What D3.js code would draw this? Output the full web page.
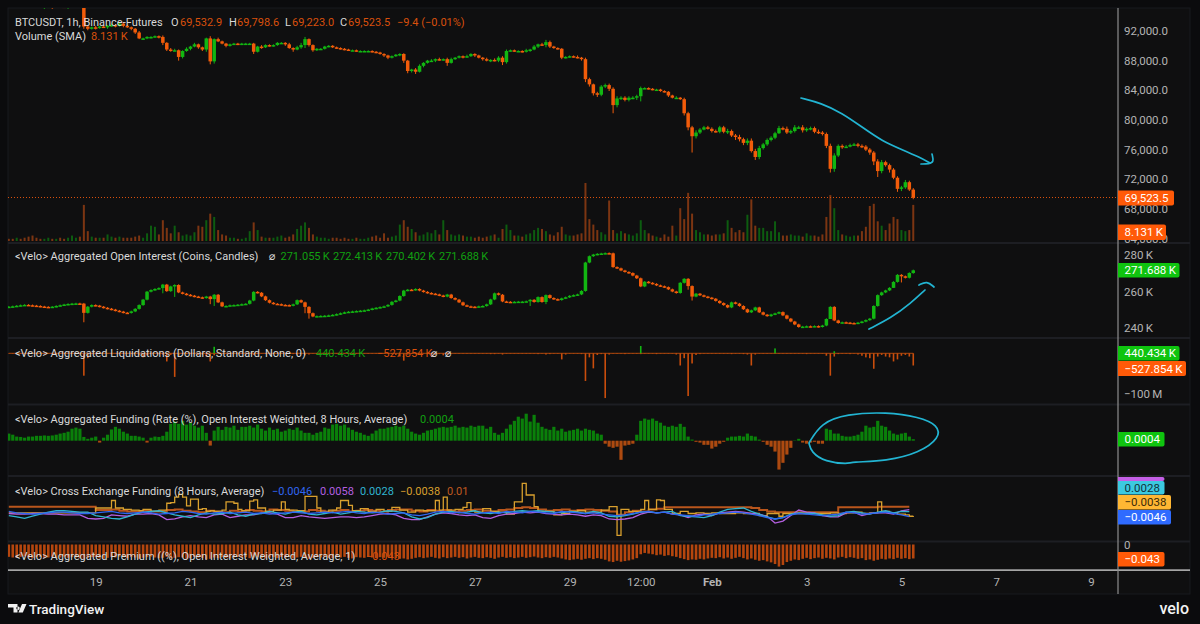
<!DOCTYPE html>
<html>
<head>
<meta charset="utf-8">
<script src="https://cdn.jsdelivr.net/npm/d3@7"></script>
<style>
  body { margin: 0; background: #0b0b0d; }
  text { font-family: Roboto, "DejaVu Sans", sans-serif; }
</style>
</head>
<body>
<svg id="chart" width="1200" height="624"></svg>
<script>
// all bars are 2h apart, starting 17 Jan 04:00
let priceClose = [
  96.5,96.3,96.4,96.2,96.0,95.8,95.6,95.4,95.2,95.3,
  95.3,95.2,95.4,95.3,95.2,96.0,96.2,96.3,96.1,92.6,
  92.3,92.5,92.4,92.6,92.5,92.7,92.8,92.7,93.0,92.7,
  92.5,92.3,91.8,91.0,91.0,91.2,91.2,91.3,91.2,90.4,
  89.5,89.4,89.4,88.5,89.3,89.6,89.9,90.2,89.8,89.5,
  91.0,87.9,90.9,90.6,90.3,90.0,90.2,90.3,90.2,90.3,
  90.3,90.3,89.2,89.9,89.8,90.1,90.0,90.1,90.4,90.4,
  90.2,89.7,89.5,89.8,90.1,90.9,90.1,89.4,89.6,89.6,
  89.9,90.0,89.8,89.7,89.6,89.5,89.4,89.4,89.3,89.3,
  89.3,89.3,89.2,89.1,88.9,88.7,88.4,88.6,88.8,88.9,
  88.0,86.6,86.8,86.5,87.3,87.7,88.0,88.0,88.2,88.1,
  88.2,87.7,88.2,88.4,88.6,88.5,88.6,88.9,88.7,88.4,
  88.2,88.0,88.1,88.0,88.4,87.8,89.3,89.4,89.3,89.3,
  89.2,89.4,89.5,89.9,90.2,90.1,90.5,89.9,89.7,89.6,
  88.4,88.5,88.6,88.5,88.4,88.2,85.5,84.8,83.6,83.4,
  84.5,84.7,84.2,82.0,82.9,83.0,82.7,83.0,83.0,83.2,
  84.3,84.3,84.2,84.1,84.1,83.9,83.8,83.3,83.0,83.0,
  82.8,80.9,79.0,77.8,78.3,78.7,79.0,78.8,78.5,78.4,
  79.0,78.4,78.5,77.9,77.7,77.4,76.9,77.2,75.8,75.0,
  76.2,76.7,77.3,77.6,78.2,78.9,78.8,78.3,78.5,79.0,
  79.0,78.6,78.8,78.9,78.4,78.3,78.1,76.5,73.4,75.2,
  76.5,76.3,76.4,76.6,76.7,76.5,76.4,76.0,75.6,74.4,
  73.1,74.3,73.9,73.3,72.2,70.7,70.9,71.6,70.6,69.5
];
// wick lengths in units of 100 dollars
let priceWickUp = [
  1,2,1,2,1,1,1,1,2,1, 1,1,2,1,1,2,1,1,1,3, 2,1,2,1,1,1,2,1,1,2, 1,1,1,2,1,1,1,1,1,2,
  1,2,2,1,1,2,1,2,1,1, 1,3,1,2,1,1,1,1,1,1, 1,1,1,1,2,1,1,1,1,1, 1,2,1,2,3,3,1,1,1,1,
  1,1,1,1,1,1,1,1,1,1, 1,1,1,1,1,1,1,1,1,1, 1,1,1,2,2,1,1,2,1,2, 1,2,2,1,1,1,2,1,1,1,
  1,2,1,2,2,2,2,1,1,1, 1,2,1,2,1,2,3,2,1,1, 1,1,1,1,2,1,2,2,1,2, 2,2,2,2,3,2,2,2,2,2,
  2,1,1,1,1,1,1,1,1,2, 1,2,2,2,3,2,2,2,2,2, 2,2,3,2,2,3,2,3,3,3, 3,2,2,2,2,3,2,3,2,3,
  2,3,2,2,2,3,2,2,3,3, 2,2,2,2,2,2,2,2,2,2, 3,3,2,2,2,2,2,3,2,2
];
let priceWickDown = [
  2,1,2,1,2,1,2,2,1,2, 1,2,1,2,1,2,1,1,2,3, 2,1,2,1,1,2,1,2,1,2, 1,2,2,1,1,1,2,1,2,3,
  2,2,1,5,2,1,2,1,2,2, 3,4,3,1,1,2,1,1,1,1, 1,1,3,1,2,1,1,1,1,1, 2,1,3,1,2,4,2,2,1,1,
  1,1,1,1,1,1,1,1,1,1, 1,1,1,1,1,2,2,1,1,2, 3,3,2,3,1,2,1,1,2,1, 1,4,1,1,1,2,1,1,2,1,
  2,1,2,1,2,4,2,1,1,1, 1,1,2,1,2,1,3,2,1,1, 2,1,1,1,1,2,4,3,3,3, 2,2,3,11,3,2,2,2,2,3,
  7,1,1,1,1,1,1,2,1,1, 1,3,4,22,3,2,1,1,2,1, 2,2,3,2,4,3,3,3,2,4, 3,2,2,2,2,1,2,2,2,2,
  2,3,2,2,2,2,2,3,5,4, 2,2,1,1,1,2,2,2,3,5, 8,3,2,4,2,4,3,2,2,2
];
let volume = [
  2,2,3,2,3,4,5,3,2,2, 3,2,2,3,2,3,5,3,4,33, 9,4,3,3,3,6,4,3,4,3, 3,3,4,5,3,7,14,13,6,19,
  12,7,14,8,5,6,5,8,14,13, 19,25,22,10,6,5,3,3,2,2, 3,9,17,10,4,3,3,3,4,5, 3,4,6,11,14,17,12,6,4,3,
  3,2,3,3,2,3,2,2,3,2, 2,3,4,5,3,7,3,4,5,15, 19,13,11,8,5,6,8,7,10,6, 19,10,6,5,6,5,4,4,3,4,
  3,4,5,6,3,11,15,10,5,5, 4,6,7,10,12,11,9,6,5,8, 13,6,5,5,6,7,53,20,15,10, 8,6,37,10,7,9,7,6,5,7,
  19,10,7,5,4,3,6,4,14,5, 30,20,44,25,10,8,6,6,5,6, 6,7,19,12,8,10,8,24,38,14, 12,12,9,9,18,8,5,5,6,5,
  5,4,7,5,5,4,6,22,42,30, 10,6,5,4,5,5,9,13,32,34, 18,14,10,16,22,20,10,9,10,33
];
let oiClose = [
  251.6,251.8,252.1,252.4,252.6,252.4,252.2,252,251.7,251.5,
  251.4,251.6,252.0,252.4,252.8,253.1,253.3,253.4,253.3,248.2,
  251.6,252.5,252.2,251.6,251,250.5,250,249.4,248.9,248.3,
  248.2,249,250.4,252.5,255.5,259.9,260.8,261.4,261.9,263.8,
  260.2,262.8,263.6,259.5,258.8,258.2,257.7,257.2,256.8,256.4,
  257.2,255.8,258.2,254,251.8,252,252.4,252.5,252.7,253,
  253.2,255,259.8,259.3,257.3,255.2,253.8,253.2,253,252.6,
  252.5,252.2,252.9,255.2,254,251.5,248,246.2,246.4,246.5,
  246.6,246.8,247.1,247.5,248,248.5,248.8,249,249.2,249.4,
  249.6,250,250.6,251,251.4,251.8,252.6,254.3,255,257.5,
  260.5,261,260.8,261.4,260.5,259.8,259.2,258.8,258.4,257.8,
  257.2,258.3,256.4,255.5,254,252.4,251.8,251.6,251.5,251.8,
  252,252.9,255.6,259,258.2,254.5,254.3,254.2,254.3,254.4,
  254.4,254.6,255.4,254.2,256.9,254.2,258,256.4,255.8,255.3,
  256.2,256.8,257.6,258,258.4,260.3,276,279.5,280.4,280.8,
  281,281.2,281.1,273.5,272.8,271.6,270.8,270.2,268.8,267.3,
  262.8,265.4,264.8,264.2,263.4,262.9,262.4,261.2,260,259.2,
  264.8,267,263,257.2,258.8,257.9,257.2,256.6,256,254.8,
  253.6,252.5,251.2,254,253.3,252,250.2,248.5,249.6,251.2,
  248.5,247.2,246.4,247.3,247.9,248.6,246.8,245,243.4,241.8,
  240.4,240.6,240.8,240.7,240.9,240.5,241.2,244.8,251.5,244,
  242.6,243,242.8,242.6,242.4,242.8,243.4,244.2,245,252,
  258,259.5,260.6,262,265.3,269.2,268.4,267.6,270.2,271.7
];
// only the bars whose wick is long enough to see
let oiWickBars = [19,39,42,51,52,75,76,132,136,172,173,208,224,226];
let oiWickLows = [243,259,257,253,252,248,245,252,253,261,255,249,262,265];
// liquidations in millions of dollars
let liqShorts = [
  1,1,1,1,1,1,1,1,1,1, 1,1,1,1,1,1,1,2,3,55, 12,2,1,1,1,1,2,1,1,1, 1,2,1,4,10,5,2,1,2,3,
  20,4,58,6,2,2,1,2,4,3, 8,20,5,1,1,1,1,1,1,1, 1,1,4,2,1,1,1,1,1,1, 1,1,2,3,2,5,3,1,1,1,
  1,1,1,1,1,1,1,1,1,1, 1,1,1,1,1,1,1,2,4,8, 18,3,2,2,1,1,1,2,4,2, 5,2,1,1,1,1,1,1,1,1,
  1,1,2,2,1,3,1,1,1,1, 1,1,1,1,2,1,3,2,1,1, 15,3,1,1,1,2,68,10,37,4, 2,110,3,1,1,1,2,1,1,1,
  2,1,1,1,2,1,1,1,1,3, 30,12,105,25,4,2,1,1,1,1, 1,1,1,2,1,1,2,3,30,3, 1,1,1,1,1,1,1,1,1,1,
  1,1,2,1,1,1,1,6,55,8, 2,1,1,2,1,3,6,10,12,38, 8,4,8,10,20,15,6,4,8,30
];
let liqLongBars = [52,160,194,209];
let liqLongs = [16,18,12,5];
// funding in units of 0.0001
let funding = [
  19,16,11,10,8,11,11,13,13,14, 13,14,16,19,21,24,32,35,32,10, 5,8,11,-5,8,16,30,37,32,24, 19,13,13,11,8,-5,8,11,10,13,
  24,45,51,45,53,43,48,40,35,40, 21,-13,27,37,29,37,35,40,29,37, 37,40,35,43,32,27,35,29,32,24, 27,32,29,35,27,21,21,16,21,24,
  35,32,43,45,40,43,35,29,24,21, 16,13,19,27,32,32,35,37,40,37, 40,32,24,19,16,21,27,29,32,35, 37,35,37,40,35,37,35,40,37,40,
  40,32,37,21,16,21,32,43,53,64, 59,72,51,69,48,37,32,29,37,27, 32,24,27,29,32,27,32,29,27,19, 16,-8,-16,-19,-16,-51,-13,-11,-8,16,
  53,59,56,59,53,48,40,37,40,37, 45,37,11,3,-3,-5,-11,-11,-21,-16, -8,-3,8,11,11,13,11,19,13,11, 3,-3,-11,-16,-29,-77,-59,-37,-19,1,
  5,-5,-8,-5,-3,-8,-8,32,29,19, 19,13,11,11,13,16,24,40,35,37, 53,40,37,27,19,16,19,21,11,4
];
// premium in units of -0.001
let premium = [
  38,40,41,38,36,40,42,39,38,41, 40,38,42,40,37,41,39,40,42,44, 41,39,38,42,44,41,38,40,37,39, 42,38,40,44,41,39,37,40,42,41,
  38,43,41,39,40,44,42,38,40,41, 46,44,40,42,39,41,43,40,38,41, 39,42,40,38,41,43,40,39,42,38, 41,39,43,40,38,42,44,41,39,40,
  38,41,42,39,40,38,41,43,39,40, 41,38,40,42,39,41,38,40,42,44, 43,46,44,41,39,42,40,38,41,43, 39,42,40,38,41,39,43,40,38,41,
  42,39,41,44,40,38,41,39,42,40, 38,41,39,37,40,42,39,41,38,40, 43,46,48,46,44,47,44,42,45,42, 44,47,52,54,50,53,51,49,46,42,
  30,26,28,30,33,31,35,33,36,38, 42,45,48,46,47,44,46,43,41,42, 39,43,40,44,41,38,42,46,43,47, 50,48,52,55,60,68,63,54,50,46,
  48,44,41,45,42,40,44,41,43,46, 40,38,42,39,41,44,42,48,46,50, 47,44,46,43,45,41,44,42,45,43
];
// cross exchange funding, units of 0.001. gold has one point per 2h, the others one per 4h
let crossGold = [
  1,1,1,1,1,1,1,1,1,1, 1,1,1,1,1,1,1,1,1,1, 1,1,8,8,8,8,19,8,8,6, 6,5,5,4,6,6,3,3,5,5,
  15,16,24,28,24,11,21,21,6,7, 3,4,3,3,5,17,17,15,6,4, 4,18,20,8,8,3,3,5,5,17, 6,5,5,4,4,25,25,25,8,2,
  2,5,5,8,19,19,12,4,4,7, 7,3,3,6,6,3,3,9,9,5, 5,2,2,5,5,4,4,4,19,5, 24,5,5,6,6,9,16,4,2,2,
  7,7,3,3,2,2,-1,-1,17,17, 44,27,27,10,2,3,3,3,-2,-2, 0,0,3,3,4,4,2,2,2,2, 5,5,10,10,-32,6,6,3,3,3,
  6,19,6,6,20,19,6,6,0,0, 3,3,0,0,1,1,0,0,1,1, 0,0,0,0,1,1,0,0,0,0, -3,-3,0,0,0,-4,0,0,0,0,
  0,0,1,1,0,0,0,0,1,1, 0,0,1,1,2,2,0,0,1,1, 17,3,3,1,1,-1,-1,-2,-4,-3.8
];
let crossOrange = [
  10,10,10,10,10,10,10,10,10,10, 10,5,5,6,4,3,3,4,3,3, 5,6,4,3,2,4,3,2,4,3, 5,4,3,6,5,4,3,3,5,4,
  3,4,5,3,4,5,4,3,5,6, 6,4,3,5,4,5,3,4,5,6, 4,3,5,6,8,9,8,6,4,5, 6,4,5,6,5,4,3,-2,2,4,
  3,6,7,9,9,9,9,9,9,9, 9,9,9,9,8,5,3,2,2,2, 2,2,2,2,2,9,9,9,9,9, 10,10,10,10,10
];
let crossPurple = [
  0,-1,-1,0,0,-1,-1,-2,-2,-2, -7,-8,-7,-2,-3,-4,-1,-1,0,-2, -9,-8,-5,-3,-5,-6,-2,-1,-6,-4, -2,-2,1,1,-1,-6,-6,-3,-5,-6,
  -7,-6,-5,-5,-6,-5,-3,-1,0,-2, -7,-9,-9,-5,-1,1,0,-2,-3,-2, -6,-7,-3,-1,0,2,1,2,0,-1, -2,-1,-2,-4,-2,-3,-8,-9,-8,-6,
  -1,2,1,2,-1,-2,-6,-2,-1,-3, 1,2,3,2,0,-1,-4,-14,-11,-3, 5,2,1,-3,-5,-5,1,2,-3,0, 1,1,-1,4,5.8
];
let crossCyan = [
  -3,-5,-7,-4,-1,2,4,4,3,2, 2,-3,-5,-7,-8,-5,-1,2,3,4, 1,-2,-4,-6,-2,1,-1,0,2,-2, -4,-1,0,3,1,-1,2,3,-1,-2,
  0,2,-1,1,3,2,1,2,4,3, 1,-5,-8,-6,-1,2,3,1,2,4, 1,0,2,1,3,4,3,4,3,2, 1,3,2,0,3,1,-4,-5,-3,-1,
  2,3,1,2,3,-3,-4,-5,-6,-3, 2,6,7,8,3,-1,-5,-8,-6,-1, 1,0,0,-2,-4,-3,2,3,1,-1, 2,4,1,3,2.8
];
let crossBlue = [
  3,1,0,-1,0,1,2,2,1,0, 0,1,2,3,1,0,1,2,1,-1, 0,1,3,2,0,-1,1,2,0,1, 2,0,1,-1,0,1,2,1,0,1,
  2,1,2,3,1,0,2,1,-1,0, 1,-2,-3,-1,2,3,1,2,0,-1, 1,2,0,3,2,1,3,2,1,0, 3,2,1,0,1,-1,-2,-3,-2,0,
  2,3,1,2,-1,-2,-3,-4,-2,-1, 0,1,2,1,-1,-3,-6,-8,-6,-2, 0,-1,-2,-3,-2,-1,2,1,-1,0, 1,2,0,-2,-4.6
];

let priceTicks = [92000,88000,84000,80000,76000,72000,68000,64000];
let oiTicks = [280,260,240];
let liqTicks = [-100];
let premiumTicks = [0];
let timeTicks = [Date.UTC(2026,0,19),Date.UTC(2026,0,21),Date.UTC(2026,0,23),Date.UTC(2026,0,25),Date.UTC(2026,0,27),Date.UTC(2026,0,29),Date.UTC(2026,0,30,12),Date.UTC(2026,1,1),Date.UTC(2026,1,3),Date.UTC(2026,1,5),Date.UTC(2026,1,7),Date.UTC(2026,1,9)];
let timeLabels = ["19","21","23","25","27","29","12:00","Feb","3","5","7","9"];

// hand drawn notes on the chart
let noteDown = [[801,98],[821,103],[842,113],[862,127],[882,141],[903,150],[919,157],[930,163]];
let noteDownHead = [[921,164],[929,164],[934,162],[932,154]];
let noteUp = [[869,329],[891,318],[911,303],[925,290]];
let noteUpHead = [[919,285],[927,281],[934,287]];
let noteRing = [[809,443],[821,423],[846,414],[887,412],[919,417],[938,425],[940,438],[919,453],[887,461],[850,462],[849,464],[825,462],[811,452],[809,443]];

let green = "#12b612", orange = "#f25c0a", greenDim = "#0d5c10", orangeDim = "#7c3512";
let axisGrey = "#b4b4b4", legendWhite = "#d9d9d9";

let svg = d3.select("#chart");
let left = 8, right = 1190, axisX = 1118;

let barTime = priceClose.map(function(d, i) { return Date.UTC(2026,0,17,4) + i * 7200000; });
let x = d3.scaleTime()
    .domain([Date.UTC(2026,0,19), Date.UTC(2026,1,9)])
    .range([95.7, 1091]);

let yPrice = d3.scaleLinear().domain([64000, 92000]).range([238.5, 31]);
let yVolume = d3.scaleLinear().domain([0, 53]).range([241, 183]);
let yOi = d3.scaleLinear().domain([240, 280]).range([327.7, 255.3]);
let yLiq = d3.scaleLinear().domain([-100, 0]).range([394, 353.3]);
let yFunding = d3.scaleLinear().domain([-100, 0]).range([478.2, 440.7]);
let yCross = d3.scaleLinear().domain([-30, 10]).range([534.05, 506.65]);
let yPremium = d3.scaleLinear().domain([70, 0]).range([567.25, 544.5]);

// panes: background, then one clip per pane
svg.append("rect").attr("x", left).attr("y", 8).attr("width", right - left).attr("height", 586)
    .attr("fill", "#0f0f10").attr("stroke", "#191a1f");

let panes = [[8,243],[243,338],[338,404.5],[404.5,476],[476,541.5],[541.5,570]];
let defs = svg.append("defs");
panes.forEach(function(p, i) {
  defs.append("clipPath").attr("id", "pane" + i).append("rect")
      .attr("x", left).attr("y", p[0]).attr("width", axisX - left).attr("height", p[1] - p[0]);
});
function paneGroup(i) { return svg.append("g").attr("clip-path", "url(#pane" + i + ")"); }

function drawBars(g, values, y, zero, width, color) {
  g.selectAll(null).data(values).enter().append("rect")
      .attr("x", function(d, i) { return x(barTime[i]) - width / 2; })
      .attr("y", function(d) { return Math.min(y(d), y(zero)); })
      .attr("width", width)
      .attr("height", function(d) { return Math.abs(y(d) - y(zero)); })
      .attr("fill", color);
}

function drawCandles(g, closes, lows, highs, y) {
  let opens = closes.map(function(d, i) { return i ? closes[i - 1] : d; });
  let col = function(d, i) { return d >= opens[i] ? green : orange; };
  g.selectAll(null).data(closes).enter().append("line")
      .attr("x1", function(d, i) { return x(barTime[i]); })
      .attr("x2", function(d, i) { return x(barTime[i]); })
      .attr("y1", function(d, i) { return y(highs(i, Math.max(d, opens[i]))); })
      .attr("y2", function(d, i) { return y(lows(i, Math.min(d, opens[i]))); })
      .attr("stroke", col).attr("stroke-width", 1);
  g.selectAll(null).data(closes).enter().append("rect")
      .attr("x", function(d, i) { return x(barTime[i]) - 1.75; })
      .attr("y", function(d, i) { return y(Math.max(d, opens[i])); })
      .attr("width", 3.5)
      .attr("height", function(d, i) { return Math.max(1.5, Math.abs(y(d) - y(opens[i]))); })
      .attr("fill", col);
}

// main pane
let gMain = paneGroup(0);
gMain.selectAll(null).data(volume).enter().append("rect")
    .attr("x", function(d, i) { return x(barTime[i]) - 1; })
    .attr("y", function(d) { return yVolume(d); })
    .attr("width", 2)
    .attr("height", function(d) { return yVolume(0) - yVolume(d); })
    .attr("fill", function(d, i) { return i && priceClose[i] >= priceClose[i - 1] ? greenDim : orangeDim; });
gMain.append("line").attr("x1", left).attr("x2", axisX)
    .attr("y1", 197.5).attr("y2", 197.5)
    .attr("stroke", "#d9500c").attr("stroke-dasharray", "1,2").attr("shape-rendering", "crispEdges");
drawCandles(gMain, priceClose.map(function(d) { return d * 1000; }),
  function(i, v) { return v - priceWickDown[i] * 100; },
  function(i, v) { return v + priceWickUp[i] * 100; }, yPrice);

// open interest
let gOi = paneGroup(1);
drawCandles(gOi, oiClose,
  function(i, v) { let k = oiWickBars.indexOf(i); return k < 0 ? v - 0.4 : oiWickLows[k]; },
  function(i, v) { return v + 0.4; }, yOi);

// liquidations
let gLiq = paneGroup(2);
gLiq.append("line")
    .attr("x1", x(barTime[0])).attr("x2", x(barTime[barTime.length - 1]))
    .attr("y1", yLiq(0)).attr("y2", yLiq(0))
    .attr("stroke", "#a8460e").attr("stroke-width", 1);
drawBars(gLiq, liqShorts.map(function(d) { return -d; }), yLiq, 0, 1.6, "#c94d0c");
gLiq.selectAll(null).data(liqLongs).enter().append("rect")
    .attr("x", function(d, i) { return x(barTime[liqLongBars[i]]) - 0.8; })
    .attr("y", function(d) { return yLiq(d); })
    .attr("width", 1.6)
    .attr("height", function(d) { return yLiq(0) - yLiq(d); })
    .attr("fill", green);

// funding
let gFunding = paneGroup(3);
gFunding.selectAll(null).data(funding).enter().append("rect")
    .attr("x", function(d, i) { return x(barTime[i]) - 1.6; })
    .attr("y", function(d) { return Math.min(yFunding(d), yFunding(0)); })
    .attr("width", 3.2)
    .attr("height", function(d) { return Math.abs(yFunding(d) - yFunding(0)); })
    .attr("fill", function(d) { return d >= 0 ? "#0a800a" : "#ad4a10"; });

// cross exchange funding
let gCross = paneGroup(4);
let crossLine = d3.line()
    .x(function(d, i) { return x(barTime[i * 2]); })
    .y(function(d) { return yCross(d); });
let goldLine = d3.line()
    .x(function(d, i) { return x(barTime[i]); })
    .y(function(d) { return yCross(d); })
    .curve(d3.curveStepAfter);
gCross.append("path").attr("d", crossLine.curve(d3.curveStepAfter)(crossOrange))
    .attr("fill", "none").attr("stroke", "#b9561c").attr("stroke-width", 2);
gCross.append("path").attr("d", goldLine(crossGold))
    .attr("fill", "none").attr("stroke", "#d9a02e").attr("stroke-width", 1.3);
crossLine.curve(d3.curveLinear);
[[crossPurple,"#b45fe0"],[crossCyan,"#2fb4d0"],[crossBlue,"#2f66f0"]].forEach(function(s) {
  gCross.append("path").attr("d", crossLine(s[0]))
      .attr("fill", "none").attr("stroke", s[1]).attr("stroke-width", 1.3);
});

// premium
let gPremium = paneGroup(5);
drawBars(gPremium, premium, yPremium, 0, 2.6, "#b5460e");

// notes
let noteLine = d3.line().curve(d3.curveBasis);
let noteG = svg.append("g").attr("fill", "none").attr("stroke", "#22b4d2").attr("stroke-width", 1.7).attr("stroke-linecap", "round");
[noteDown, noteDownHead, noteUp, noteUpHead, noteRing].forEach(function(p) {
  noteG.append("path").attr("d", noteLine(p));
});

// pane separators, frame of the time axis
panes.slice(1).forEach(function(p) {
  svg.append("rect").attr("x", left).attr("y", p[0] - 1).attr("width", right - left).attr("height", 2).attr("fill", "#1d1e23");
});
svg.append("rect").attr("x", left).attr("y", 569.5).attr("width", right - left).attr("height", 1.2).attr("fill", "#e6e6e6");
svg.append("rect").attr("x", axisX - 0.6).attr("y", 8).attr("width", 1.2).attr("height", 586).attr("fill", "#8d8d8d");

// axes
function rightAxis(y, ticks, fmt) {
  let g = svg.append("g").attr("transform", "translate(" + axisX + ",0)")
      .call(d3.axisRight(y).tickValues(ticks).tickSize(0).tickPadding(6).tickFormat(fmt));
  g.select(".domain").remove();
  g.selectAll("text").attr("fill", axisGrey).style("font-size", "11.5px").style("font-family", "Roboto");
}
rightAxis(yPrice, priceTicks, d3.format(",.1f"));
rightAxis(yOi, oiTicks, function(d) { return d + "\u2009K"; });
rightAxis(yLiq, liqTicks, function(d) { return "\u2212" + Math.abs(d) + "\u2009M"; });
rightAxis(yPremium, premiumTicks, function(d) { return d; });

let timeAxis = svg.append("g").attr("transform", "translate(0,578)")
    .call(d3.axisBottom(x).tickValues(timeTicks).tickSize(0).tickPadding(0)
      .tickFormat(function(d, i) { return timeLabels[i]; }));
timeAxis.select(".domain").remove();
timeAxis.selectAll("text").attr("fill", axisGrey).style("font-size", "11.5px").style("font-family", "Roboto")
    .style("font-weight", function(d, i) { return timeLabels[i] === "Feb" ? 700 : 400; });

// value badges on the axis
function badge(y0, y1, x1, label, fill, textFill) {
  svg.append("path")
      .attr("d", "M" + axisX + "," + y0 + "H" + (x1 - 2) + "q2,0 2,2V" + (y1 - 2) + "q0,2 -2,2H" + axisX + "Z")
      .attr("fill", fill);
  if (label) svg.append("text").attr("x", axisX + 6.5).attr("y", (y0 + y1) / 2).attr("dy", "0.36em")
      .attr("font-size", 11.5).attr("fill", textFill || "#fff").text(label);
}
badge(190.5, 205.5, 1174, "69,523.5", "#ff5a08");
badge(224.5, 240, 1166, "8.131\u2009K", "#ff5a08");
badge(263, 277.5, 1179.5, "271.688\u2009K", "#0fc40f");
badge(346, 360.5, 1179.5, "440.434\u2009K", "#0fc40f");
badge(361, 376, 1186, "\u2212527.854\u2009K", "#ff5a08");
badge(432, 446.5, 1164.5, "0.0004", "#0fc40f");
badge(477, 481, 1164.5, "", "#c45fe6");
badge(481, 494.5, 1164.5, "0.0028", "#3cc9e0", "#12343c");
badge(495, 509.5, 1171, "\u22120.0038", "#ffb733", "#3a2a08");
badge(510, 524.5, 1171, "\u22120.0046", "#2f6bff");
badge(552, 566.5, 1164.5, "\u22120.043", "#ff5a08");

// legends
function legend(y, items) {
  items.forEach(function(t) {
    svg.append("text").attr("x", t[0]).attr("y", y).attr("dy", "0.36em")
        .attr("font-size", 11).attr("fill", t[2] || legendWhite).text(t[1]);
  });
}
let up = "#11a011", down = "#d9500c";
legend(22, [[15,"BTCUSDT, 1h, Binance-Futures"],[171,"O"],[180,"69,532.9",down],[229,"H"],[237,"69,798.6",down],[285,"L"],[292,"69,223.0",down],[340,"C"],[348,"69,523.5",down],[397,"\u22129.4 (\u22120.01%)",down]]);
legend(36.5, [[15,"Volume (SMA)"],[91,"8.131\u2009K",down]]);
legend(256, [[15,"<Velo> Aggregated Open Interest (Coins, Candles)"],[269,"\u2300"],[280.5,"271.055\u2009K",up],[333,"272.413\u2009K",up],[386,"270.402\u2009K",up],[439,"271.688\u2009K",up]]);
legend(353, [[15,"<Velo> Aggregated Liquidations (Dollars, Standard, None, 0)"],[316,"440.434\u2009K",up],[377,"\u2212527.854\u2009K",down],[431,"\u2300"],[445,"\u2300"]]);
legend(419, [[15,"<Velo> Aggregated Funding (Rate (%), Open Interest Weighted, 8 Hours, Average)"],[420,"0.0004",up]]);
legend(491, [[15,"<Velo> Cross Exchange Funding (8 Hours, Average)"],[272,"\u22120.0046","#2f66f0"],[320,"0.0058","#b45fe0"],[360,"0.0028","#2fb4d0"],[400,"\u22120.0038","#d9a02e"],[447,"0.01","#c05a20"]]);
legend(556, [[15,"<Velo> Aggregated Premium ((%), Open Interest Weighted, Average, 1)"],[366,"\u22120.043",down]]);

// footer marks
svg.append("path").attr("fill", "#f2f2f2")
    .attr("d", "M8,604h9.5v8.5h-4v-5h-5.5Z M18,606.5a1.7,1.7 0 1 0 0.01,0Z M22,604h4.5l-3.7,8.5h-4.4Z");
svg.append("text").attr("x", 29).attr("y", 609).attr("dy", "0.36em").attr("font-size", 13.5)
    .attr("font-weight", 500).attr("fill", "#f2f2f2").text("TradingView");
svg.append("text").attr("x", 1189).attr("y", 608).attr("dy", "0.36em").attr("text-anchor", "end")
    .attr("font-size", 16).attr("font-weight", 500).attr("fill", "#f2f2f2").text("velo");
</script>
</body>
</html>
